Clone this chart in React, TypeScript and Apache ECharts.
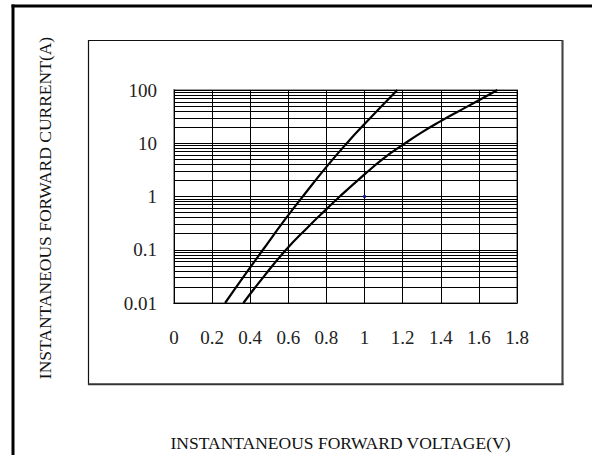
import React, { useEffect, useRef } from "react";
import * as echarts from "echarts";

// X axis (voltage) ticks
const xTickValues = [0, 0.2, 0.4, 0.6, 0.8, 1.0, 1.2, 1.4, 1.6, 1.8];
const xTickLabels = ["0", "0.2", "0.4", "0.6", "0.8", "1", "1.2", "1.4", "1.6", "1.8"];

// Y axis (current, log) ticks
const yTickValues = [0.01, 0.1, 1, 10, 100];
const yTickLabels = ["0.01", "0.1", "1", "10", "100"];

// Minor log grid lines (2..9 of each decade)
const yMinorGrid = [
  0.02, 0.03, 0.04, 0.05, 0.06, 0.07, 0.08, 0.09,
  0.2, 0.3, 0.4, 0.5, 0.6, 0.7, 0.8, 0.9,
  2, 3, 4, 5, 6, 7, 8, 9,
  20, 30, 40, 50, 60, 70, 80, 90,
];

// Curve A (left curve)
const curveAVoltage = [0.268, 0.37, 0.467, 0.58, 0.683, 0.8, 0.9, 1.0, 1.172];
const curveACurrent = [0.01, 0.033, 0.1, 0.36, 1.08, 3.6, 9.4, 23, 100];

// Curve B (right curve)
const curveBVoltage = [0.364, 0.47, 0.588, 0.7, 0.8, 0.87, 1.0, 1.1, 1.2, 1.3, 1.4, 1.5, 1.6, 1.697];
const curveBCurrent = [0.01, 0.031, 0.1, 0.26, 0.58, 1.0, 2.6, 5.2, 9.3, 16, 26, 41, 64, 100];

// Small blue marker in the plot
const markerVoltage = [1.0];
const markerCurrent = [1];

const xTitle = "INSTANTANEOUS FORWARD VOLTAGE(V)";
const yTitle = "INSTANTANEOUS FORWARD CURRENT(A)";

const FONT = "'Liberation Serif', 'Times New Roman', serif";

export default function App() {
  const ref = useRef<HTMLDivElement>(null);

  useEffect(() => {
    if (!ref.current) return;
    const chart = echarts.init(ref.current, undefined, { renderer: "svg" });

    const labelFor = (vals: number[], labels: string[], v: number) => {
      for (let i = 0; i < vals.length; i++) {
        if (Math.abs(vals[i] - v) <= Math.abs(vals[i]) * 1e-6 + 1e-9) return labels[i];
      }
      return "";
    };

    chart.setOption({
      animation: false,
      backgroundColor: "#fff",
      grid: {
        left: 174,
        top: 90,
        right: 75,
        bottom: 152,
        show: true,
        borderColor: "#999",
        borderWidth: 2,
        backgroundColor: "transparent",
      },
      xAxis: {
        type: "value",
        min: 0,
        max: 1.8,
        interval: 0.2,
        axisLine: { show: true, lineStyle: { color: "#000", width: 1 } },
        axisTick: { show: false },
        axisLabel: {
          color: "#222",
          fontFamily: FONT,
          fontSize: 19,
          margin: 25,
          formatter: (v: number) => labelFor(xTickValues, xTickLabels, v),
        },
        splitLine: { show: true, lineStyle: { color: "#000", width: 1 } },
      },
      yAxis: {
        type: "log",
        logBase: 10,
        min: 0.01,
        max: 100,
        axisLine: { show: true, onZero: false, lineStyle: { color: "#000", width: 1 } },
        axisTick: { show: true, inside: true, length: 8, lineStyle: { color: "#000" } },
        axisLabel: {
          color: "#222",
          fontFamily: FONT,
          fontSize: 19,
          margin: 17,
          formatter: (v: number) => labelFor(yTickValues, yTickLabels, v),
        },
        splitLine: { show: true, lineStyle: { color: "#000", width: 1 } },
      },
      series: [
        {
          type: "line",
          data: curveAVoltage.map((v, i) => [v, curveACurrent[i]]),
          smooth: 0.5,
          showSymbol: false,
          lineStyle: { color: "#000", width: 2.2 },
          z: 5,
          markLine: {
            silent: true,
            symbol: ["none", "none"],
            label: { show: false },
            lineStyle: { color: "#000", width: 1, type: "solid" },
            data: yMinorGrid.map((v) => ({ yAxis: v })),
            z: 1,
          },
        },
        {
          type: "line",
          data: curveBVoltage.map((v, i) => [v, curveBCurrent[i]]),
          smooth: 0.5,
          showSymbol: false,
          lineStyle: { color: "#000", width: 2.2 },
          z: 5,
        },
        {
          type: "scatter",
          data: markerVoltage.map((v, i) => [v, markerCurrent[i]]),
          symbol: "rect",
          symbolSize: 3,
          itemStyle: { color: "#1a1aa8" },
          z: 6,
        },
      ],
      graphic: [
        {
          type: "line",
          shape: { x1: 11.5, y1: 6, x2: 592, y2: 6 },
          style: { stroke: "#000", lineWidth: 3 },
        },
        {
          type: "line",
          shape: { x1: 13, y1: 4.5, x2: 13, y2: 455 },
          style: { stroke: "#000", lineWidth: 3 },
        },
        {
          type: "rect",
          shape: { x: 88.5, y: 40.5, width: 474, height: 344 },
          style: { fill: "none", stroke: "#111", lineWidth: 1.2 },
          z: -1,
        },
        {
          type: "line",
          shape: { x1: 562.5, y1: 40, x2: 562.5, y2: 385 },
          style: { stroke: "#444", lineWidth: 2 },
        },
        {
          type: "line",
          shape: { x1: 88, y1: 384.3, x2: 563.5, y2: 384.3 },
          style: { stroke: "#333", lineWidth: 2 },
        },
        {
          type: "text",
          x: 340.5,
          y: 443,
          style: {
            text: xTitle,
            fill: "#111",
            font: `17.5px ${FONT}`,
            textAlign: "center",
            textVerticalAlign: "middle",
          },
        },
        {
          type: "text",
          x: 45,
          y: 208,
          rotation: Math.PI / 2,
          style: {
            text: yTitle,
            fill: "#111",
            font: `17.5px ${FONT}`,
            textAlign: "center",
            textVerticalAlign: "middle",
          },
        },
      ],
    });

    return () => chart.dispose();
  }, []);

  return (
    <div
      ref={ref}
      style={{ position: "fixed", left: 0, top: 0, width: 592, height: 455, background: "#fff" }}
    />
  );
}
